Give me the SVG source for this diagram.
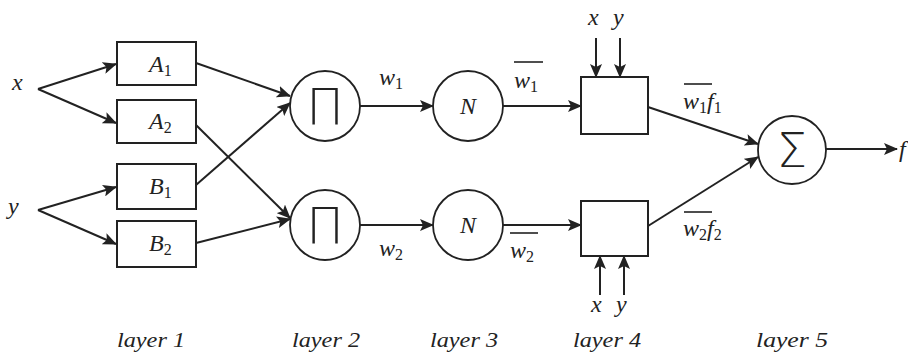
<svg xmlns="http://www.w3.org/2000/svg" width="908" height="356" viewBox="0 0 908 356">
  <style>
    .box { fill: #fff; stroke: #222; stroke-width: 2; }
    .node { fill: #fff; stroke: #222; stroke-width: 1.8; }
    .edge { fill: none; stroke: #222; stroke-width: 2; marker-end: url(#arrow); }
    .bar { stroke: #222; stroke-width: 1.6; }
    .t { font-family: "Liberation Serif", "Times New Roman", serif; font-style: italic; fill: #222; font-size: 24px; }
    .sub { font-size: 16px; font-style: normal; }
    .sym { font-family: "DejaVu Sans", sans-serif; font-weight: 200; fill: #222; text-anchor: middle; }
    .layer { font-family: "Liberation Serif", "Times New Roman", serif; font-style: italic; fill: #222; font-size: 22px; }
  </style>
  <defs>
    <marker id="arrow" markerUnits="userSpaceOnUse" markerWidth="14" markerHeight="12" refX="13" refY="6" orient="auto">
      <path d="M0,0 L14,6 L0,12 L3,6 Z" fill="#222"/>
    </marker>
  </defs>
  <rect width="908" height="356" fill="#fff"/>

  <!-- inputs -->
  <g id="in-x"><text class="t" x="12" y="90">x</text></g>
  <g id="in-y"><text class="t" x="8" y="214">y</text></g>

  <!-- layer 1: membership functions -->
  <g id="A1"><rect class="box" x="117" y="42" width="79" height="43"/><text class="t" x="149" y="72">A<tspan class="sub" dy="4">1</tspan></text></g>
  <g id="A2"><rect class="box" x="117" y="100" width="79" height="43"/><text class="t" x="149" y="129">A<tspan class="sub" dy="4">2</tspan></text></g>
  <g id="B1"><rect class="box" x="117" y="164" width="79" height="45"/><text class="t" x="149" y="194">B<tspan class="sub" dy="4">1</tspan></text></g>
  <g id="B2"><rect class="box" x="117" y="221" width="79" height="46"/><text class="t" x="149" y="251">B<tspan class="sub" dy="4">2</tspan></text></g>

  <!-- layer 2: product nodes -->
  <g id="P1"><circle class="node" cx="325" cy="106" r="35"/><text class="sym" x="325" y="124" font-size="50">Π</text></g>
  <g id="P2"><circle class="node" cx="325" cy="225" r="35"/><text class="sym" x="325" y="243" font-size="50">Π</text></g>

  <!-- layer 3: normalisation nodes -->
  <g id="N1"><circle class="node" cx="468" cy="106" r="35"/><text class="t" x="468" y="114" text-anchor="middle" font-size="22">N</text></g>
  <g id="N2"><circle class="node" cx="468" cy="225" r="35"/><text class="t" x="468" y="233" text-anchor="middle" font-size="22">N</text></g>

  <!-- layer 4: consequent nodes -->
  <g id="C1"><rect class="box" x="581" y="77" width="67" height="57"/></g>
  <g id="C2"><rect class="box" x="581" y="201" width="67" height="55"/></g>

  <!-- layer 5: summation -->
  <g id="S"><circle class="node" cx="792" cy="150" r="34"/><text class="sym" x="792" y="167" font-size="48">Σ</text></g>

  <g id="out"><text class="t" x="899" y="157">f</text></g>

  <!-- connectors -->
  <g id="edges">
    <path class="edge" d="M38,89 L116,64"/>
    <path class="edge" d="M38,89 L116,123"/>
    <path class="edge" d="M38,210 L116,187"/>
    <path class="edge" d="M38,210 L116,244"/>
    <path class="edge" d="M196,63 L290,96"/>
    <path class="edge" d="M196,185 L290,103"/>
    <path class="edge" d="M196,125 L290,218"/>
    <path class="edge" d="M196,243 L290,219"/>
    <path class="edge" d="M360,106 L433,106"/>
    <path class="edge" d="M360,225 L433,225"/>
    <path class="edge" d="M503,106 L581,106"/>
    <path class="edge" d="M503,225 L581,225"/>
    <path class="edge" d="M596,38 L596,77"/>
    <path class="edge" d="M620,38 L620,77"/>
    <path class="edge" d="M600,295 L600,256"/>
    <path class="edge" d="M624,295 L624,256"/>
    <path class="edge" d="M648,107 L758,144"/>
    <path class="edge" d="M648,226 L758,157"/>
    <path class="edge" d="M826,149 L897,149"/>
  </g>

  <!-- edge labels -->
  <g id="labels">
    <text class="t" x="379" y="85">w<tspan class="sub" dy="4">1</tspan></text>
    <text class="t" x="379" y="256">w<tspan class="sub" dy="4">2</tspan></text>
    <line class="bar" x1="514" y1="62" x2="543" y2="62"/>
    <text class="t" x="514" y="88">w<tspan class="sub" dy="4">1</tspan></text>
    <line class="bar" x1="510" y1="233" x2="538" y2="233"/>
    <text class="t" x="510" y="258">w<tspan class="sub" dy="4">2</tspan></text>
    <line class="bar" x1="684" y1="84" x2="712" y2="84"/>
    <text class="t" x="683" y="109">w<tspan class="sub" dy="4">1</tspan><tspan dy="-4">f</tspan><tspan class="sub" dy="4">1</tspan></text>
    <line class="bar" x1="684" y1="212" x2="712" y2="212"/>
    <text class="t" x="683" y="236">w<tspan class="sub" dy="4">2</tspan><tspan dy="-4">f</tspan><tspan class="sub" dy="4">2</tspan></text>
    <text class="t" x="588" y="25">x</text>
    <text class="t" x="613" y="25">y</text>
    <text class="t" x="591" y="312">x</text>
    <text class="t" x="616" y="312">y</text>
  </g>

  <!-- layer captions -->
  <g id="captions">
    <text class="layer" x="117" y="347" textLength="68" lengthAdjust="spacingAndGlyphs">layer 1</text>
    <text class="layer" x="292" y="347" textLength="68" lengthAdjust="spacingAndGlyphs">layer 2</text>
    <text class="layer" x="430" y="347" textLength="68" lengthAdjust="spacingAndGlyphs">layer 3</text>
    <text class="layer" x="573" y="347" textLength="68" lengthAdjust="spacingAndGlyphs">layer 4</text>
    <text class="layer" x="756" y="347" textLength="72" lengthAdjust="spacingAndGlyphs">layer 5</text>
  </g>
</svg>
